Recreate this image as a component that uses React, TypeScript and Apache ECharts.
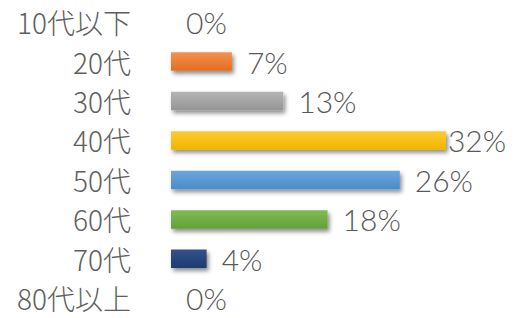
import React, { useEffect, useRef } from "react";
import * as echarts from "echarts";

const categories = ["10代以下", "20代", "30代", "40代", "50代", "60代", "70代", "80代以上"];
const values = [0, 7.0, 12.9, 31.6, 26.3, 18.0, 4.1, 0];
const topColors = ["#ffffff", "#F4914F", "#B4B4B4", "#FFCB33", "#6BA7DE", "#80BC55", "#34528A", "#ffffff"];
const bottomColors = ["#ffffff", "#E46C1E", "#959595", "#F0B400", "#4A8BCB", "#63A037", "#1E3A70", "#ffffff"];

export default function App() {
  const ref = useRef<HTMLDivElement>(null);
  useEffect(() => {
    if (!ref.current) return;
    const chart = echarts.init(ref.current, undefined, { renderer: "svg" });
    const max = 38;
    const data = values.map((v, i) => ({
      value: v,
      itemStyle: {
        color: new echarts.graphic.LinearGradient(0, 0, 0, 1, [
          { offset: 0, color: topColors[i] },
          { offset: 1, color: bottomColors[i] },
        ]),
      },
      label: i === 3 ? { distance: 2 } : undefined,
    }));
    chart.setOption({
      animation: false,
      grid: { left: 171, top: 2.4, width: 8.7 * max, height: 319.5, containLabel: false },
      xAxis: {
        type: "value",
        min: 0,
        max,
        show: false,
      },
      yAxis: {
        type: "category",
        data: categories,
        inverse: true,
        axisLine: { show: false },
        axisTick: { show: false },
        axisLabel: {
          margin: 40,
          fontSize: 28,
          fontWeight: 300,
          color: "#606060",
          padding: [4, 0, 0, 0],
          fontFamily: "'Noto Sans CJK JP', 'Noto Sans', sans-serif",
        },
      },
      series: [
        {
          type: "bar",
          data,
          barWidth: 18.5,
          itemStyle: {
            shadowColor: "rgba(0,0,0,0.45)",
            shadowBlur: 4,
            shadowOffsetX: 2,
            shadowOffsetY: 3,
          },
          label: {
            show: true,
            position: "right",
            distance: 15,
            fontSize: 30,
            fontWeight: 300,
            color: "#595959",
            padding: [3, 0, 0, 0],
            fontFamily: "'Lato', 'Noto Sans', sans-serif",
            formatter: (p: any) => Math.round(p.value) + "%",
          },
        },
      ],
    });
    return () => chart.dispose();
  }, []);
  return (
    <div
      ref={ref}
      style={{ position: "fixed", left: 0, top: 0, width: 514, height: 318, background: "#fff" }}
    />
  );
}
